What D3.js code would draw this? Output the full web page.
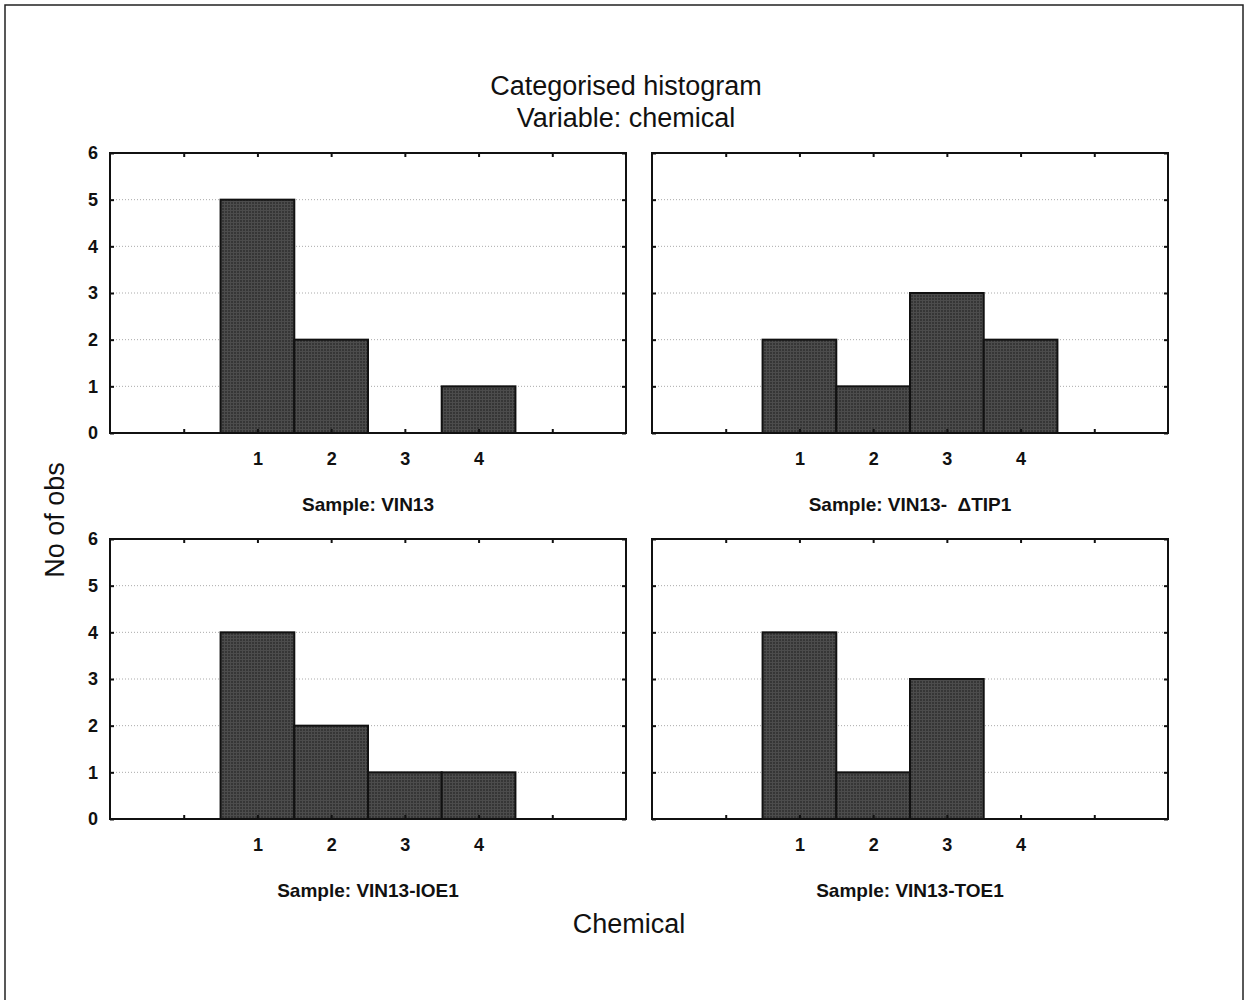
<!DOCTYPE html>
<html>
<head>
<meta charset="utf-8">
<script src="https://cdn.jsdelivr.net/npm/d3@7"></script>
<style>
  body { margin: 0; background: #fff; }
  svg text { font-family: Arial, "Liberation Sans", sans-serif; fill: #111; }
</style>
</head>
<body>
<div id="chart"></div>
<script>
// data
const categories = [1, 2, 3, 4];
const samples = ["Sample: VIN13", "Sample: VIN13-  \u0394TIP1", "Sample: VIN13-IOE1", "Sample: VIN13-TOE1"];
const countsVIN13 = [5, 2, 0, 1];
const countsTIP1 = [2, 1, 3, 2];
const countsIOE1 = [4, 2, 1, 1];
const countsTOE1 = [4, 1, 3, 0];
const xTicks = [0, 1, 2, 3, 4, 5];
const yTicks = [0, 1, 2, 3, 4, 5, 6];
const gridLines = [1, 2, 3, 4, 5];

const allCounts = [countsVIN13, countsTIP1, countsIOE1, countsTOE1];

const W = 1252, H = 1000;
const svg = d3.select("#chart").append("svg")
    .attr("width", W)
    .attr("height", H);

// bar texture
const defs = svg.append("defs");
const pat = defs.append("pattern")
    .attr("id", "tex")
    .attr("patternUnits", "userSpaceOnUse")
    .attr("width", 3).attr("height", 3);
pat.append("rect").attr("width", 3).attr("height", 3).attr("fill", "#363636");
pat.append("rect").attr("width", 3).attr("height", 1).attr("fill", "#4c4c4c");
pat.append("rect").attr("width", 1).attr("height", 3).attr("fill", "#4c4c4c");

// outer frame
svg.append("rect")
    .attr("x", 5).attr("y", 5)
    .attr("width", 1238).attr("height", 1000)
    .attr("fill", "none")
    .attr("stroke", "#222")
    .attr("stroke-width", 1.5);

// titles
svg.append("text")
    .attr("x", 626).attr("y", 95)
    .attr("text-anchor", "middle")
    .style("font-size", "27px")
    .text("Categorised histogram");
svg.append("text")
    .attr("x", 626).attr("y", 127)
    .attr("text-anchor", "middle")
    .style("font-size", "27px")
    .text("Variable: chemical");

svg.append("text")
    .attr("transform", "translate(64,520) rotate(-90)")
    .attr("text-anchor", "middle")
    .style("font-size", "27px")
    .text("No of obs");

svg.append("text")
    .attr("x", 629).attr("y", 933)
    .attr("text-anchor", "middle")
    .style("font-size", "27px")
    .text("Chemical");

// panel layout
const pw = 516, ph = 280;
const panelPos = [[110, 153], [652, 153], [110, 539], [652, 539]];

const drawPanel = (i) => {
    const [px, py] = panelPos[i];
    const counts = allCounts[i];
    const g = svg.append("g").attr("transform", `translate(${px},${py})`);

    const x = d3.scaleLinear().domain([-1, 6]).range([0, pw]);
    const y = d3.scaleLinear().domain([0, 6]).range([ph, 0]);
    const bw = x(1) - x(0);

    // dotted grid
    g.selectAll(".grid")
        .data(gridLines)
        .join("line")
        .attr("x1", 0).attr("x2", pw)
        .attr("y1", d => y(d)).attr("y2", d => y(d))
        .attr("stroke", "#aaa")
        .attr("stroke-width", 1)
        .attr("stroke-dasharray", "1,2");

    // bars
    g.selectAll(".bar")
        .data(categories.map((c, j) => ({ c: c, v: counts[j] })).filter(d => d.v > 0))
        .join("rect")
        .attr("x", d => x(d.c) - bw / 2)
        .attr("y", d => y(d.v))
        .attr("width", bw)
        .attr("height", d => y(0) - y(d.v))
        .attr("fill", "url(#tex)")
        .attr("stroke", "#111")
        .attr("stroke-width", 2);

    // axes (ticks point inward)
    const bottom = g.append("g")
        .attr("transform", `translate(0,${ph})`)
        .call(d3.axisBottom(x).tickValues(xTicks).tickSize(-4).tickPadding(19)
            .tickFormat(d => (d >= 1 && d <= 4) ? d : ""));
    bottom.selectAll("text").style("font-size", "18px").style("font-weight", "bold");

    g.append("g")
        .call(d3.axisTop(x).tickValues(xTicks).tickSize(-4).tickFormat(""));

    // only the left column carries y labels
    const showY = i % 2 === 0;
    const left = g.append("g")
        .call(d3.axisLeft(y).tickValues(yTicks).tickSize(-4).tickPadding(12)
            .tickFormat(showY ? d3.format("d") : ""));
    left.selectAll("text").style("font-size", "18px").style("font-weight", "bold");

    g.append("g")
        .attr("transform", `translate(${pw},0)`)
        .call(d3.axisRight(y).tickValues(yTicks).tickSize(-4).tickFormat(""));

    g.selectAll(".domain").remove();
    g.selectAll(".tick line").attr("stroke", "#111").attr("stroke-width", 2);
    g.selectAll(".tick text").attr("fill", "#111");

    // frame
    g.append("rect")
        .attr("width", pw).attr("height", ph)
        .attr("fill", "none")
        .attr("stroke", "#111")
        .attr("stroke-width", 2);

    // sample label
    g.append("text")
        .attr("x", pw / 2).attr("y", ph + 78)
        .attr("text-anchor", "middle")
        .style("font-size", "19px")
        .style("font-weight", "bold")
        .style("white-space", "pre")
        .attr("xml:space", "preserve")
        .text(samples[i]);
};

for (let i = 0; i < 4; i++) {
    drawPanel(i);
}
</script>
</body>
</html>
